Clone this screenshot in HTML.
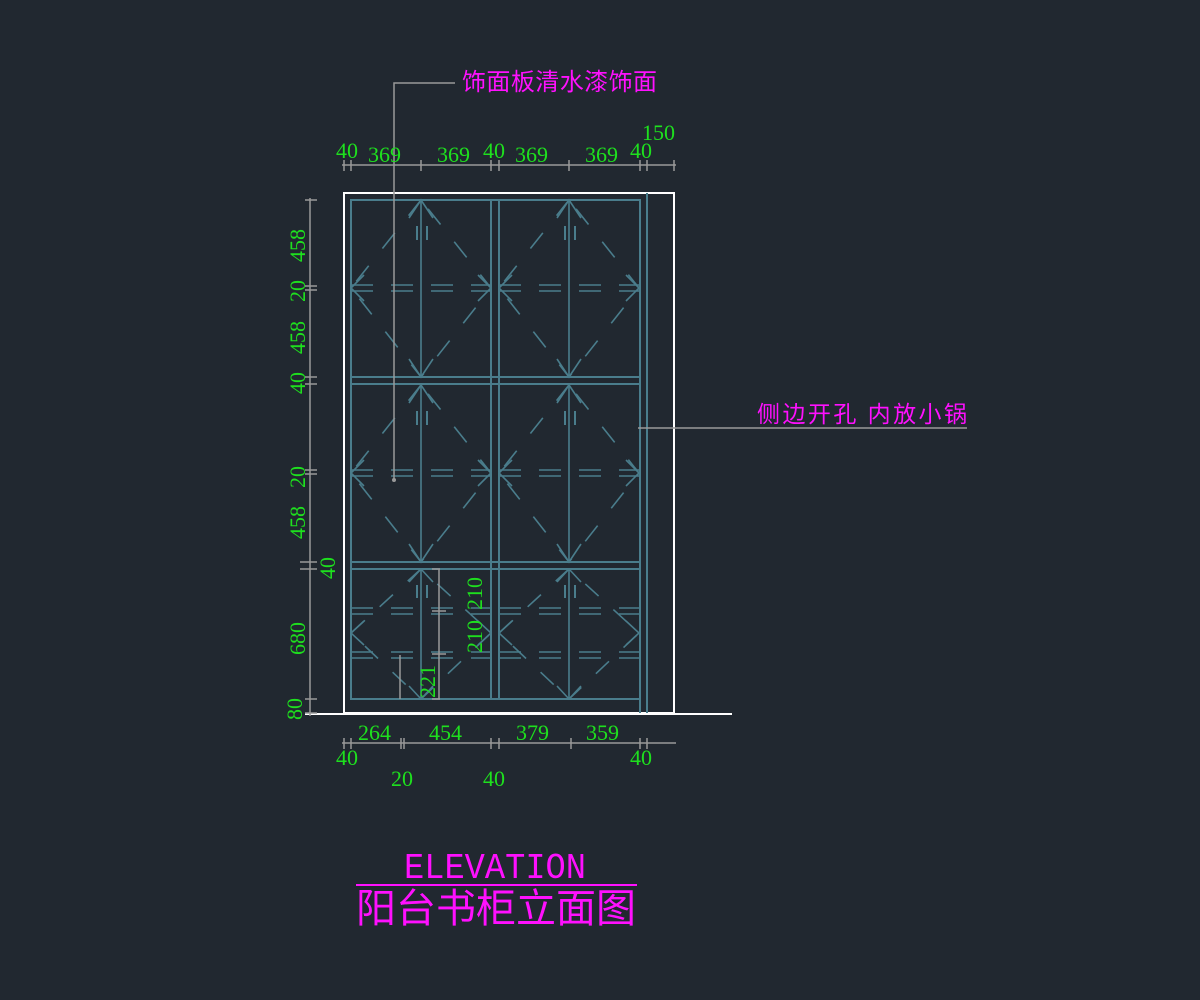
<!DOCTYPE html>
<html><head><meta charset="utf-8"><style>
html,body{margin:0;padding:0;background:#212830;}
svg{display:block}
.g{fill:#1ee01e;font-family:"Liberation Serif","Noto Serif CJK SC",serif;font-size:22px}
.m{fill:#ff10ff;font-family:"Liberation Sans","Noto Sans CJK SC",sans-serif}
</style></head><body>
<svg width="1200" height="1000" viewBox="0 0 1200 1000" xmlns="http://www.w3.org/2000/svg">
<rect width="1200" height="1000" fill="#212830"/>
<defs>
<g id="leafT" stroke="#4a7d8c" stroke-width="1.6" fill="none">
 <line x1="421" y1="200" x2="421" y2="377"/>
 <path d="M409 218 L421 200 L433 218 M409 359 L421 377 L433 359 M364 275 L351 288 L364 301 M478 275 L491 288 L478 301"/>
 <path d="M351 285 H491 M351 291 H491" stroke-dasharray="22 18"/>
 <path d="M421 200 L351 288 L421 377 L491 288 Z" stroke-dasharray="20 22"/>
 <path d="M417 226 V240 M427 226 V240" stroke-width="2"/>
</g>
<g id="leafB" stroke="#4a7d8c" stroke-width="1.6" fill="none">
 <line x1="421" y1="569" x2="421" y2="699"/>
 <path d="M409 582 L421 569 L433 582 M409 686 L421 699 L433 686 M364 621 L351 633 L364 645 M478 621 L491 633 L478 645"/>
 <path d="M351 608 H491 M351 614 H491 M351 652 H491 M351 658 H491" stroke-dasharray="22 18"/>
 <path d="M421 569 L351 633 L421 699 L491 633 Z" stroke-dasharray="18 20"/>
 <path d="M417 585 V598 M427 585 V598" stroke-width="2"/>
</g>
</defs>
<rect x="344" y="193" width="330" height="520" fill="none" stroke="#ffffff" stroke-width="2"/>
<line x1="305" y1="714" x2="732" y2="714" stroke="#ffffff" stroke-width="2"/>
<g stroke="#4a7d8c" stroke-width="2" fill="none">
 <rect x="351" y="200" width="289" height="499"/>
 <line x1="647" y1="193" x2="647" y2="713"/>
 <line x1="640" y1="699" x2="640" y2="713"/>
 <line x1="491" y1="200" x2="491" y2="699"/>
 <line x1="499" y1="200" x2="499" y2="699"/>
 <line x1="351" y1="377" x2="640" y2="377"/>
 <line x1="351" y1="384" x2="640" y2="384"/>
 <line x1="351" y1="562" x2="640" y2="562"/>
 <line x1="351" y1="569" x2="640" y2="569"/>
</g>
<use href="#leafT"/>
<use href="#leafT" transform="translate(148,0)"/>
<use href="#leafT" transform="translate(0,185)"/>
<use href="#leafT" transform="translate(148,185)"/>
<use href="#leafB"/>
<use href="#leafB" transform="translate(148,0)"/>
<g stroke="#999" stroke-width="1.5" fill="none">
 <path d="M400 655 V699 M439 569 V699 M432 569 H440 M432 699 H440 M432 611 H446 M432 654 H446"/>
</g>
<g stroke="#999" stroke-width="1.5" fill="none">
 <line x1="342" y1="165" x2="676" y2="165"/>
 <path d="M344 160V171 M351 160V171 M421 160V171 M491 160V171 M499 160V171 M569 160V171 M640 160V171 M647 160V171 M674 160V171"/>
 <line x1="310" y1="198" x2="310" y2="716"/>
 <path d="M305 200H317 M305 286H317 M305 290H317 M305 377H317 M305 384H317 M305 470H317 M305 474H317 M300 562H317 M300 569H317 M305 699H317 M305 713H317"/>
 <line x1="342" y1="743" x2="676" y2="743"/>
 <path d="M344 738V749 M351 738V749 M401 738V749 M404 738V749 M491 738V749 M499 738V749 M571 738V749 M640 738V749 M647 738V749"/>
 <polyline points="394,480 394,83 455,83"/>
 <polyline points="638,428 967,428"/>
</g>
<circle cx="394" cy="480" r="2" fill="#999"/>
<text class="g" x="336" y="158">40</text>
<text class="g" x="368" y="162">369</text>
<text class="g" x="437" y="162">369</text>
<text class="g" x="483" y="158">40</text>
<text class="g" x="515" y="162">369</text>
<text class="g" x="585" y="162">369</text>
<text class="g" x="630" y="158">40</text>
<text class="g" x="642" y="140">150</text>
<g class="g">
 <text transform="translate(305,262) rotate(-90)">458</text>
 <text transform="translate(305,302) rotate(-90)">20</text>
 <text transform="translate(305,354) rotate(-90)">458</text>
 <text transform="translate(305,394) rotate(-90)">40</text>
 <text transform="translate(305,488) rotate(-90)">20</text>
 <text transform="translate(305,539) rotate(-90)">458</text>
 <text transform="translate(335,579) rotate(-90)">40</text>
 <text transform="translate(305,655) rotate(-90)">680</text>
 <text transform="translate(302,720) rotate(-90)">80</text>
 <text transform="translate(482,653) rotate(-90)">210</text>
 <text transform="translate(482,610) rotate(-90)">210</text>
 <text transform="translate(435,698) rotate(-90)">221</text>
</g>
<text class="g" x="358" y="740">264</text>
<text class="g" x="429" y="740">454</text>
<text class="g" x="516" y="740">379</text>
<text class="g" x="586" y="740">359</text>
<text class="g" x="336" y="765">40</text>
<text class="g" x="391" y="786">20</text>
<text class="g" x="483" y="786">40</text>
<text class="g" x="630" y="765">40</text>
<text class="m" x="462" y="90" font-size="24" textLength="195">饰面板清水漆饰面</text>
<text class="m" x="757" y="422" font-size="23" textLength="210">侧边开孔 内放小锅</text>
<text x="495" y="878" text-anchor="middle" textLength="182" lengthAdjust="spacingAndGlyphs" style="fill:#ff10ff;font-family:'Liberation Mono',monospace;font-size:36px">ELEVATION</text>
<line x1="356" y1="885" x2="637" y2="885" stroke="#ff10ff" stroke-width="2"/>
<text class="m" x="496" y="922" font-size="40" text-anchor="middle">阳台书柜立面图</text>
</svg>
</body></html>
